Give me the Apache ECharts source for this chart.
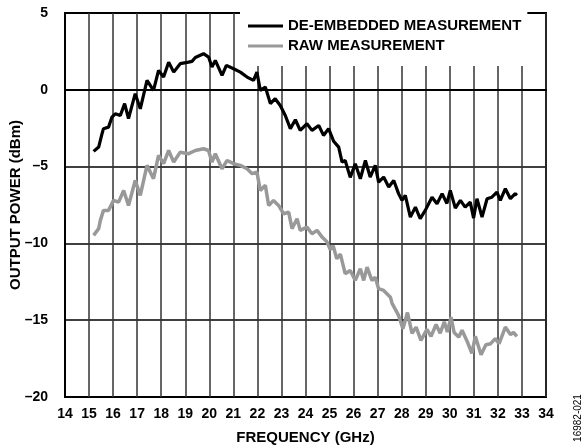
<!DOCTYPE html>
<html>
<head>
<meta charset="utf-8">
<script src="https://cdn.jsdelivr.net/npm/echarts@6/dist/echarts.min.js"></script>
<style>
  html, body { margin: 0; padding: 0; background: #fff; }
  #chart { width: 585px; height: 446px; }
</style>
</head>
<body>
<div id="chart"></div>
<script>
// de-embedded measurement (GHz, dBm)
var deFreq = [15.19, 15.26, 15.4, 15.54, 15.6, 15.81, 15.95, 16.09, 16.3, 16.48, 16.64, 16.92, 17.13, 17.41, 17.68, 17.89, 18.1, 18.31, 18.52, 18.79,
  19.14, 19.28, 19.42, 19.76, 19.97, 20.11, 20.25, 20.53, 20.71, 21.01, 21.29, 21.57, 21.84, 21.98, 22.12, 22.33, 22.54, 22.74, 22.95, 23.16,
  23.37, 23.58, 23.78, 24.06, 24.27, 24.55, 24.75, 24.96, 25.17, 25.38, 25.52, 25.65, 25.86, 26.07, 26.28, 26.49, 26.69, 26.9, 27.04, 27.25,
  27.46, 27.67, 27.87, 28.01, 28.15, 28.36, 28.57, 28.77, 28.98, 29.26, 29.47, 29.68, 29.88, 30.02, 30.23, 30.44, 30.64, 30.85, 30.99, 31.13,
  31.34, 31.55, 31.75, 31.96, 32.1, 32.31, 32.52, 32.72, 32.79];
var dePower = [-4.01, -3.95, -3.73, -2.86, -2.53, -2.43, -1.78, -1.56, -1.67, -0.9, -1.88, -0.25, -1.24, 0.61, -0.04, 1.26, 0.83, 1.8, 1.15, 1.7,
  1.8, 1.85, 2.1, 2.35, 2.13, 1.48, 1.91, 0.94, 1.59, 1.37, 1.15, 0.83, 0.61, 1.15, -0.04, 0.18, -0.9, -0.58, -1.02, -1.67,
  -2.53, -1.95, -2.64, -2.21, -2.64, -2.32, -2.97, -2.53, -3.35, -3.73, -4.71, -4.6, -5.7, -4.81, -5.79, -4.6, -5.68, -4.92, -6.01, -5.68,
  -6.33, -5.9, -6.76, -7.2, -6.87, -8.29, -7.64, -8.39, -7.85, -6.99, -7.42, -6.76, -7.4, -6.55, -7.7, -7.2, -7.64, -7.31, -8.35, -7.09,
  -8.29, -7.09, -6.99, -6.66, -7.2, -6.44, -7.09, -6.76, -6.87];

// raw measurement (GHz, dBm)
var rawFreq = [15.19, 15.4, 15.47, 15.6, 15.81, 16.02, 16.23, 16.44, 16.64, 16.92, 17.13, 17.41, 17.68, 17.89, 18.1, 18.31, 18.52, 18.79, 19.14, 19.42,
  19.76, 19.97, 20.11, 20.25, 20.53, 20.74, 21.01, 21.29, 21.57, 21.78, 21.98, 22.12, 22.33, 22.47, 22.67, 22.88, 23.09, 23.3, 23.44, 23.65,
  23.78, 24.06, 24.27, 24.48, 24.69, 24.89, 25.03, 25.15, 25.3, 25.45, 25.65, 25.86, 26.07, 26.28, 26.42, 26.56, 26.76, 26.9, 27.04, 27.25,
  27.53, 27.6, 27.87, 28.05, 28.24, 28.43, 28.6, 28.8, 29.05, 29.22, 29.43, 29.6, 29.77, 29.9, 30.05, 30.18, 30.37, 30.51, 30.7, 30.92,
  31.06, 31.3, 31.5, 31.7, 31.89, 32.05, 32.31, 32.52, 32.65, 32.79];
var rawPower = [-9.48, -9.04, -8.5, -7.85, -7.85, -7.2, -7.31, -6.55, -7.53, -5.9, -6.88, -4.92, -5.79, -4.27, -4.81, -3.95, -4.71, -4.06, -4.16, -3.95,
  -3.84, -3.95, -4.71, -4.16, -5.14, -4.6, -4.81, -4.92, -5.14, -5.46, -5.36, -6.55, -6.22, -7.53, -7.2, -7.53, -8.07, -7.96, -9.04, -8.39,
  -9.15, -8.94, -9.37, -9.15, -9.59, -9.9, -10.4, -10.15, -11.0, -10.7, -11.97, -11.76, -12.41, -11.65, -12.41, -11.54, -12.41, -12.2, -12.95, -13.06,
  -13.5, -13.9, -14.69, -15.55, -14.5, -15.85, -15.45, -16.31, -15.6, -16.05, -15.28, -15.85, -15.1, -15.77, -14.8, -15.8, -16.1, -15.66, -16.3, -17.15,
  -16.05, -17.25, -16.6, -16.53, -16.2, -16.53, -15.45, -15.93, -15.8, -16.05];

function zip(xs, ys) {
  return xs.map(function (x, i) { return [x, ys[i]] })
}
function minus(v) {
  return String(v).replace('-', '\u2013')
}

var font = "'Liberation Sans', Arial, sans-serif"
var chart = echarts.init(document.getElementById('chart'))

var option = {
  backgroundColor: '#fff',
  animation: false,
  textStyle: { fontFamily: font },
  grid: {
    left: 65, right: 39, top: 13, bottom: 49,
    outerBoundsMode: 'none',
    show: true, borderColor: '#000', borderWidth: 2
  },
  legend: {
    orient: 'vertical',
    left: 240, top: 12,
    padding: [6, 6, 12, 8],
    backgroundColor: '#fff',
    icon: 'rect',
    itemWidth: 35, itemHeight: 3, itemGap: 4,
    textStyle: { fontFamily: font, fontWeight: 'bold', fontSize: 15, color: '#000', lineHeight: 16 },
    data: ['DE-EMBEDDED MEASUREMENT', 'RAW MEASUREMENT']
  },
  xAxis: {
    type: 'value', min: 14, max: 34, interval: 1,
    name: 'FREQUENCY (GHz)', nameLocation: 'middle', nameGap: 33, nameMoveOverlap: false,
    nameTextStyle: { fontFamily: font, fontWeight: 'bold', fontSize: 15, color: '#000' },
    axisLine: { lineStyle: { color: '#000', width: 2 } },
    axisTick: { show: false },
    axisLabel: { margin: 10, fontFamily: font, fontWeight: 'bold', fontSize: 14, color: '#000' },
    splitLine: { lineStyle: { color: '#333', width: 1.5 } }
  },
  yAxis: {
    type: 'value', min: -20, max: 5, interval: 5,
    name: 'OUTPUT POWER (dBm)', nameLocation: 'middle', nameGap: 42, nameMoveOverlap: false,
    nameTextStyle: { fontFamily: font, fontWeight: 'bold', fontSize: 15, color: '#000' },
    axisLine: { show: true, lineStyle: { color: '#000', width: 2 } },
    axisTick: { show: false },
    axisLabel: { margin: 17, fontFamily: font, fontWeight: 'bold', fontSize: 14, color: '#000', formatter: minus },
    splitLine: { lineStyle: { color: '#000', width: 1.5 } }
  },
  graphic: [{
    type: 'text', x: 578, y: 418, rotation: Math.PI / 2,
    style: { text: '16982-021', fontFamily: font, fontSize: 10, fill: '#000', textAlign: 'center', textVerticalAlign: 'middle' }
  }],
  series: [
    {
      name: 'DE-EMBEDDED MEASUREMENT', type: 'line', symbol: 'none',
      lineStyle: { color: '#000', width: 3.2 }, itemStyle: { color: '#000' },
      data: zip(deFreq, dePower)
    },
    {
      name: 'RAW MEASUREMENT', type: 'line', symbol: 'none',
      lineStyle: { color: '#999', width: 3.5 }, itemStyle: { color: '#999' },
      data: zip(rawFreq, rawPower)
    }
  ]
}
chart.setOption(option)
</script>
</body>
</html>
